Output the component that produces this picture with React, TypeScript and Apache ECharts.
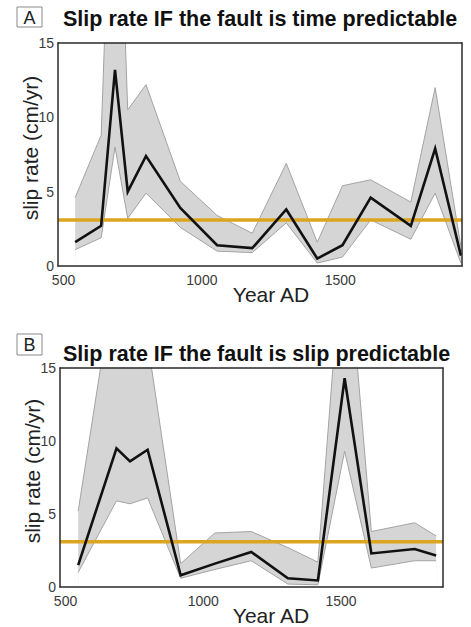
import React, { useEffect, useRef } from "react";
import * as echarts from "echarts";

// Panel A: time predictable
const yearsA = [542, 636, 686, 732, 798, 922, 1055, 1182, 1305, 1417, 1508, 1610, 1755, 1843, 1936];
const medianA = [1.6, 2.7, 13.2, 5.0, 7.4, 3.9, 1.4, 1.2, 3.8, 0.5, 1.4, 4.6, 2.7, 7.9, 0.7];
const upperA = [4.6, 8.8, 35, 10.5, 12.2, 5.7, 3.4, 2.2, 6.9, 1.6, 5.4, 5.8, 4.3, 12.0, 1.3];
const lowerA = [1.1, 1.9, 8.0, 3.2, 4.9, 2.6, 1.0, 0.9, 2.9, 0.2, 0.6, 3.1, 1.8, 4.9, 0.2];

// Panel B: slip predictable
const yearsB = [546, 685, 734, 798, 918, 1042, 1174, 1307, 1416, 1513, 1610, 1767, 1845];
const medianB = [1.5, 9.5, 8.6, 9.4, 0.8, 1.6, 2.4, 0.6, 0.45, 14.3, 2.3, 2.6, 2.15];
const upperB = [5.2, 22, 20, 16.8, 1.6, 3.7, 3.8, 2.7, 1.7, 25.4, 3.8, 4.4, 3.5];
const lowerB = [1.0, 5.9, 5.7, 6.1, 0.6, 1.2, 1.8, 0.2, 0.15, 9.3, 1.3, 1.8, 1.8];

const thresholdRate = 3.1;
const xTickLabels = [500, 1000, 1500];
const xRangeA = [480, 1940];
const xRangeB = [480, 1870];
const yRange = [0, 15];

const titleA = "Slip rate IF the fault is time predictable";
const titleB = "Slip rate IF the fault is slip predictable";

const FONT = '"Liberation Sans", Arial, Helvetica, sans-serif';
const BAND_FILL = "#d5d5d5";
const BAND_EDGE = "#a3a3a3";
const ORANGE = "#dca51f";
const FRAME = "#2a2a2a";

function axesFor(grid: number, xr: number[], namePadLeft: number) {
  const xMain = {
    gridIndex: grid,
    type: "value",
    min: xr[0],
    max: xr[1],
    z: 10,
    axisLine: { show: true, onZero: false, lineStyle: { color: FRAME, width: 1.5 } },
    axisTick: { show: false },
    splitLine: { show: false },
    axisLabel: {
      customValues: xTickLabels,
      formatter: (v: number) => String(v),
      fontSize: 14,
      color: "#3a3a3a",
      margin: 7,
      fontFamily: FONT,
    },
    name: "Year AD",
    nameLocation: "middle",
    nameGap: 18,
    nameMoveOverlap: false,
    nameTextStyle: { fontSize: 21, color: "#222", fontFamily: FONT, padding: [0, 0, 0, namePadLeft] },
  };
  const xTop = {
    gridIndex: grid,
    type: "value",
    position: "top",
    min: xr[0],
    max: xr[1],
    z: 10,
    axisLine: { show: true, onZero: false, lineStyle: { color: FRAME, width: 1.5 } },
    axisTick: { show: false },
    splitLine: { show: false },
    axisLabel: { show: false },
  };
  const yMain = {
    gridIndex: grid,
    type: "value",
    min: yRange[0],
    max: yRange[1],
    interval: 5,
    z: 10,
    axisLine: { show: true, onZero: false, lineStyle: { color: FRAME, width: 1.5 } },
    axisTick: { show: false },
    splitLine: { show: false },
    axisLabel: { fontSize: 14, color: "#3a3a3a", margin: 4, fontFamily: FONT },
    name: "slip rate (cm/yr)",
    nameLocation: "middle",
    nameRotate: 90,
    nameGap: 17,
    nameMoveOverlap: false,
    nameTextStyle: { fontSize: 21, color: "#222", fontFamily: FONT, padding: [0, 0, 0, 13] },
  };
  const yRight = {
    gridIndex: grid,
    type: "value",
    position: "right",
    min: yRange[0],
    max: yRange[1],
    interval: 5,
    z: 10,
    axisLine: { show: true, onZero: false, lineStyle: { color: FRAME, width: 1.5 } },
    axisTick: { show: false },
    splitLine: { show: false },
    axisLabel: { show: false },
  };
  return { xMain, xTop, yMain, yRight };
}

function seriesFor(
  axisIdx: number,
  key: string,
  years: number[],
  median: number[],
  upper: number[],
  lower: number[],
  xr: number[]
) {
  const common = {
    type: "line",
    xAxisIndex: axisIdx,
    yAxisIndex: axisIdx,
    symbol: "none",
    silent: true,
    clip: true,
  };
  return [
    {
      ...common,
      name: key + "-upper",
      data: years.map((x, i) => [x, upper[i]]),
      lineStyle: { color: BAND_EDGE, width: 1 },
      areaStyle: { color: BAND_FILL, opacity: 1, origin: "start" },
      z: 2,
    },
    {
      ...common,
      name: key + "-lower",
      data: years.map((x, i) => [x, lower[i]]),
      lineStyle: { color: BAND_EDGE, width: 1 },
      areaStyle: { color: "#ffffff", opacity: 1, origin: "start" },
      z: 2,
    },
    {
      ...common,
      name: key + "-threshold",
      data: [
        [xr[0], thresholdRate],
        [xr[1], thresholdRate],
      ],
      lineStyle: { color: ORANGE, width: 3.5 },
      z: 3,
    },
    {
      ...common,
      name: key + "-median",
      data: years.map((x, i) => [x, median[i]]),
      lineStyle: { color: "#111", width: 2.6, join: "miter" },
      z: 4,
    },
  ];
}

export default function App() {
  const ref = useRef<HTMLDivElement>(null);

  useEffect(() => {
    if (!ref.current) return;
    const chart = echarts.init(ref.current, undefined, { renderer: "svg" });
    const a = axesFor(0, xRangeA, 22);
    const b = axesFor(1, xRangeB, 39);

    const option: any = {
      animation: false,
      backgroundColor: "#ffffff",
      textStyle: { fontFamily: FONT },
      title: [
        {
          text: titleA,
          left: 63,
          top: 8,
          padding: 0,
          textStyle: { fontSize: 21.5, fontWeight: "bold", color: "#111", fontFamily: FONT },
        },
        {
          text: titleB,
          left: 63,
          top: 343,
          padding: 0,
          textStyle: { fontSize: 21.5, fontWeight: "bold", color: "#111", fontFamily: FONT },
        },
      ],
      grid: [
        { left: 58, top: 43, width: 404, height: 223, containLabel: false },
        { left: 60, top: 368, width: 383, height: 220, containLabel: false },
      ],
      xAxis: [a.xMain, b.xMain, a.xTop, b.xTop],
      yAxis: [a.yMain, b.yMain, a.yRight, b.yRight],
      series: [
        ...seriesFor(0, "A", yearsA, medianA, upperA, lowerA, xRangeA),
        ...seriesFor(1, "B", yearsB, medianB, upperB, lowerB, xRangeB),
      ],
      graphic: [
        {
          type: "group",
          children: [
            {
              type: "rect",
              shape: { x: 17, y: 7, width: 25, height: 20 },
              style: { fill: "none", stroke: "#8a8a8a", lineWidth: 1 },
            },
            {
              type: "text",
              x: 29.5,
              y: 17.5,
              style: {
                text: "A",
                fontSize: 18,
                fontFamily: FONT,
                fill: "#222",
                align: "center",
                verticalAlign: "middle",
              },
            },
            {
              type: "rect",
              shape: { x: 17, y: 334, width: 25, height: 21 },
              style: { fill: "none", stroke: "#8a8a8a", lineWidth: 1 },
            },
            {
              type: "text",
              x: 29.5,
              y: 345,
              style: {
                text: "B",
                fontSize: 18,
                fontFamily: FONT,
                fill: "#222",
                align: "center",
                verticalAlign: "middle",
              },
            },
          ],
        },
      ],
    };
    chart.setOption(option);
    return () => chart.dispose();
  }, []);

  return (
    <div
      ref={ref}
      style={{ position: "fixed", left: 0, top: 0, width: 471, height: 627, background: "#fff" }}
    />
  );
}
